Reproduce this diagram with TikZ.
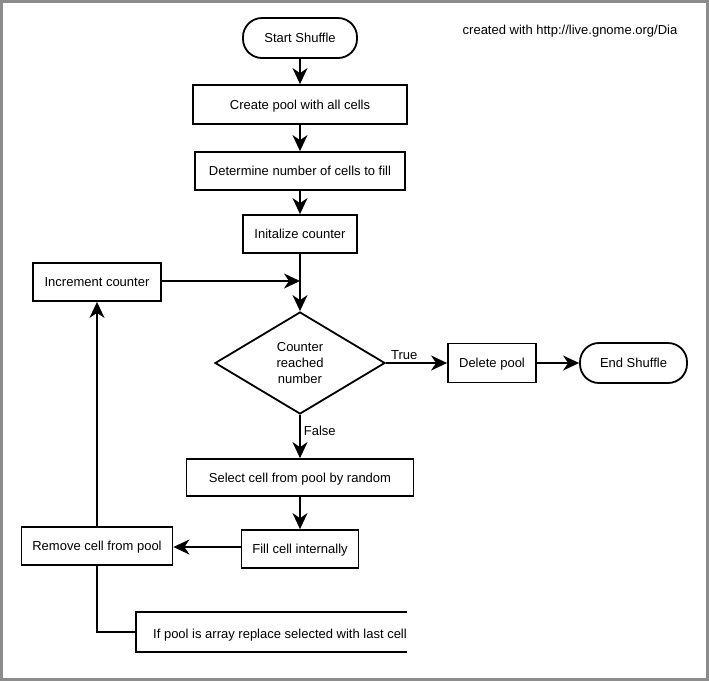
\documentclass[tikz,border=0pt]{standalone}
\usepackage{fontspec}
\setmainfont{Liberation Sans}
\usetikzlibrary{shapes.geometric,arrows.meta}
\begin{document}
\begin{tikzpicture}[x=1pt,y=-1pt,
  font=\fontsize{13}{16}\selectfont,
  box/.style={draw,line width=1.8pt,minimum height=38pt,inner sep=0pt,text depth=0pt},
  term/.style={draw,line width=1.8pt,rounded corners=19pt,minimum height=40pt,inner sep=0pt,text depth=0pt},
  conn/.style={line width=1.8pt,-{Stealth[length=16pt,width=15pt,inset=5pt]}},
  plain/.style={line width=1.8pt}]
\fill[white] (0,0) rectangle (709,681);
\draw[gray!90,line width=2.5pt] (1.25,1.25) rectangle (707.5,679.5);
\node[term,minimum width=114pt] (start) at (300,38) {Start Shuffle};
\node[box,minimum width=214pt,minimum height=39pt] (create) at (300,104.5) {Create pool with all cells};
\node[box,minimum width=210pt] (determine) at (300,171) {Determine number of cells to fill};
\node[box,minimum width=114pt] (init) at (300,234) {Initalize counter};
\node[box,minimum width=128pt] (incr) at (97,282) {Increment counter};
\node[draw,line width=1.8pt,diamond,aspect=1.667,minimum width=170pt,minimum height=102pt,inner sep=0pt,align=center] (dec) at (300,363) {Counter\\reached\\number};
\node[box,minimum width=88pt,minimum height=39pt] (del) at (492,363) {Delete pool};
\node[term,minimum width=107pt] (end) at (633.5,363) {End Shuffle};
\node[box,minimum width=227pt,minimum height=37pt] (select) at (300,477.5) {Select cell from pool by random};
\node[box,minimum width=117pt] (fill) at (300,549) {Fill cell internally};
\node[box,minimum width=151pt] (remove) at (97,546) {Remove cell from pool};
\coordinate (merge) at (300,281);
\coordinate (annL) at (136,632);
\coordinate (fillout) at (242,547);
\node[anchor=base west,inner sep=0pt] (annot) at (153,638) {If pool is array replace selected with last cell};
\node[anchor=base,inner sep=0pt] (credit) at (570,34) {created with http://live.gnome.org/Dia};
\draw[conn] (start) -- (create);
\draw[conn] (create) -- (determine);
\draw[conn] (determine) -- (init);
\draw[conn] (init) -- (dec.north);
\draw[conn] (incr.east |- merge) -- (merge);
\draw[conn] (dec.east) -- node[above,pos=0.3,inner sep=2pt] (truel) {True} (del.west);
\draw[conn] (del.east) -- (end.west);
\draw[conn] (dec.south) -- node[right,pos=0.38,inner sep=3pt] (falsel) {False} (select.north);
\draw[conn] (select) -- (fill);
\draw[conn] (fillout) -- (remove.east |- fillout);
\draw[conn] (remove.north) -- (incr.south);
\draw[plain] (remove.south) |- (annL);
\draw[plain] (407,612) -- (136,612) -- (136,652) -- (407,652);
\end{tikzpicture}
\end{document}
